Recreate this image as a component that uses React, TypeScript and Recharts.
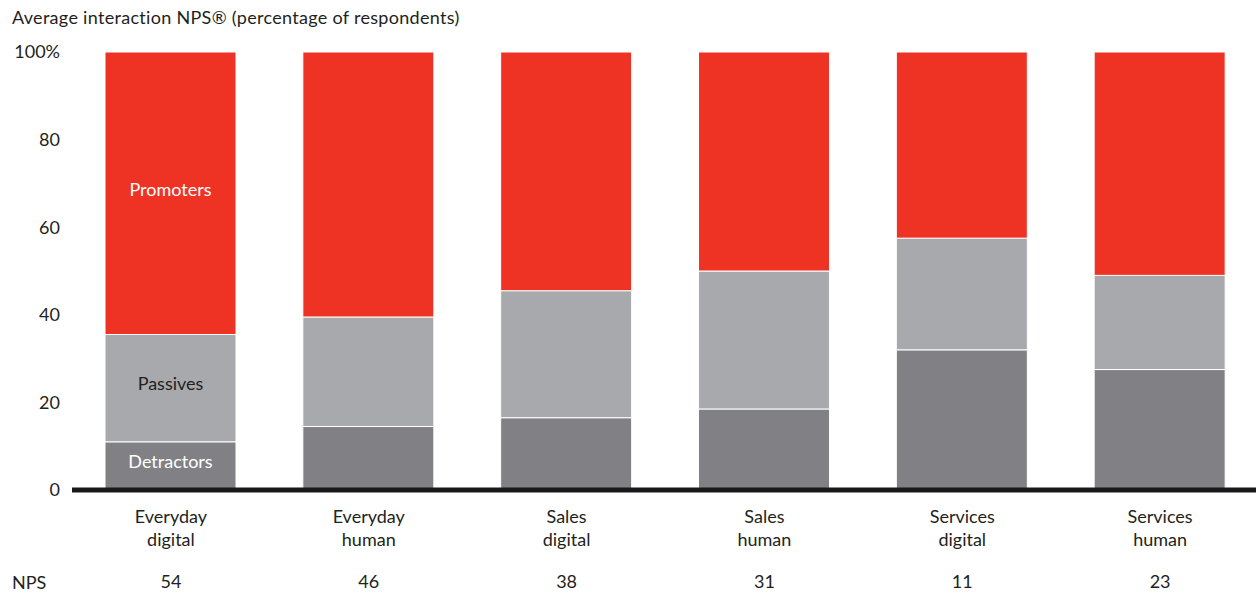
import { BarChart, Bar, XAxis, YAxis, LabelList } from 'recharts';

const categories = ['Everyday\ndigital', 'Everyday\nhuman', 'Sales\ndigital', 'Sales\nhuman', 'Services\ndigital', 'Services\nhuman'];
const detractors = [11, 14.5, 16.5, 18.5, 32, 27.5];
const passives = [24.5, 25, 29, 31.5, 25.5, 21.5];
const promoters = [64.5, 60.5, 54.5, 50, 42.5, 51];
const npsScores = [54, 46, 38, 31, 11, 23];
const yTicks = [0, 20, 40, 60, 80, 100];

const data = categories.map((c, i) => ({
    name: c,
    detractors: detractors[i],
    passives: passives[i],
    promoters: promoters[i],
}));

const FONT = 'Lato, "Noto Sans", sans-serif';
const TEXT = '#231f20';
const FS = 18;

const CategoryTick = (props: any) => {
    const { x, y, payload, index } = props;
    const lines = String(payload.value).split('\n');
    return (
        <g>
            <text x={x} y={y} textAnchor="middle" fill={TEXT} fontSize={FS} fontFamily={FONT}>
                {lines.map((l, i) => (
                    <tspan key={i} x={x} dy={i === 0 ? 33 : 23}>{l}</tspan>
                ))}
            </text>
            <text x={x} y={y + 98} textAnchor="middle" fill={TEXT} fontSize={FS} fontFamily={FONT}>
                {npsScores[index]}
            </text>
        </g>
    );
};

const segmentLabel = (text: string, color: string) => (props: any) => {
    const { x, y, width, height, index } = props;
    if (index !== 0) return null;
    return (
        <text x={x + width / 2} y={y + height / 2 - 4} dy="0.35em" textAnchor="middle" fill={color} fontSize={FS} fontFamily={FONT}>
            {text}
        </text>
    );
};

const App = () => {
    return (
        <div style={{ position: 'relative', width: 1256, height: 595, overflow: 'hidden', background: '#fff' }}>
            <style>{`body{margin:0}`}</style>
            <div style={{ position: 'absolute', left: 12, top: 6, fontFamily: FONT, fontSize: FS, color: TEXT, lineHeight: '22px', letterSpacing: 0.3 }}>
                Average interaction NPS® (percentage of respondents)
            </div>
            <div style={{ position: 'absolute', left: 12, top: 571, fontFamily: FONT, fontSize: FS, color: TEXT, lineHeight: '22px' }}>
                NPS
            </div>
            <BarChart width={1259} height={595} data={data} margin={{ top: 52, right: 0, bottom: 0, left: 0 }} barSize={131}>
                <XAxis
                    dataKey="name"
                    axisLine={{ stroke: '#1a1718', strokeWidth: 5 }}
                    tickLine={false}
                    tickSize={0}
                    tickMargin={0}
                    height={105}
                    interval={0}
                    tick={<CategoryTick />}
                />
                <YAxis
                    width={72}
                    domain={[0, 100]}
                    ticks={yTicks}
                    axisLine={false}
                    tickLine={false}
                    tickSize={0}
                    tickMargin={12}
                    tickFormatter={(v: number) => (v === 100 ? '100%' : String(v))}
                    tick={{ fontSize: FS, fill: TEXT, fontFamily: FONT }}
                />
                <Bar dataKey="detractors" stackId="a" fill="#818185" stroke="#fff" strokeWidth={1} isAnimationActive={false}>
                    <LabelList dataKey="detractors" content={segmentLabel('Detractors', '#fff')} />
                </Bar>
                <Bar dataKey="passives" stackId="a" fill="#a8a9ad" stroke="#fff" strokeWidth={1} isAnimationActive={false}>
                    <LabelList dataKey="passives" content={segmentLabel('Passives', TEXT)} />
                </Bar>
                <Bar dataKey="promoters" stackId="a" fill="#ee3325" stroke="#fff" strokeWidth={1} isAnimationActive={false}>
                    <LabelList dataKey="promoters" content={segmentLabel('Promoters', '#fff')} />
                </Bar>
            </BarChart>
        </div>
    );
};

export default App;
